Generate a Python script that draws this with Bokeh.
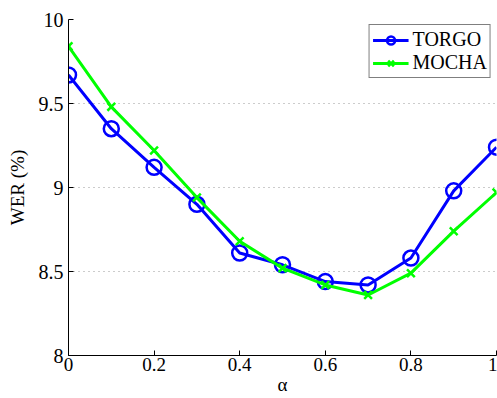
from bokeh.plotting import figure
from bokeh.embed import file_html
from bokeh.resources import INLINE
from bokeh.models import FixedTicker, Range1d, Legend, LegendItem

alpha = [0.0, 0.1, 0.2, 0.3, 0.4, 0.5, 0.6, 0.7, 0.8, 0.9, 1.0]
torgo = [9.67, 9.35, 9.12, 8.90, 8.61, 8.54, 8.44, 8.42, 8.58, 8.98, 9.24]
mocha = [9.84, 9.48, 9.22, 8.94, 8.68, 8.52, 8.42, 8.36, 8.49, 8.74, 8.97]
x_ticks = [0, 0.2, 0.4, 0.6, 0.8, 1]
x_tick_labels = ["0", "0.2", "0.4", "0.6", "0.8", "1"]
y_ticks = [8, 8.5, 9, 9.5, 10]
y_tick_labels = ["8", "8.5", "9", "9.5", "10"]

FONT = "Liberation Serif"

p = figure(width=497, height=398, output_backend="svg", toolbar_location=None,
           x_range=Range1d(0, 1), y_range=Range1d(8, 10),
           min_border_left=68, min_border_right=1, min_border_top=19, min_border_bottom=43)
p.outline_line_color = None
p.background_fill_color = "white"

for ax in (p.xaxis[0], p.yaxis[0]):
    ax.major_label_text_font = FONT
    ax.axis_label_text_font = FONT
    ax.axis_label_text_font_style = "normal"
    ax.axis_line_color = "black"
    ax.axis_line_width = 1
    ax.major_tick_in = 5
    ax.major_tick_out = 0
    ax.minor_tick_line_color = None
    ax.major_tick_line_color = "black"
    ax.major_label_text_color = "black"
    ax.axis_label_text_color = "black"

p.xaxis.major_label_text_font_size = "19px"
p.xaxis.axis_label_text_font_size = "19px"
p.yaxis.major_label_text_font_size = "20px"
p.yaxis.axis_label_text_font_size = "19px"

p.xaxis.ticker = FixedTicker(ticks=x_ticks)
p.xaxis.major_label_overrides = dict(zip(x_ticks, x_tick_labels))
p.yaxis.ticker = FixedTicker(ticks=y_ticks)
p.yaxis.major_label_overrides = dict(zip(y_ticks, y_tick_labels))
p.xaxis.axis_label = "α"
p.yaxis.axis_label = "WER (%)"
p.xaxis.axis_label_standoff = 0
p.xaxis.major_label_standoff = 2
p.yaxis.axis_label_standoff = 8
p.yaxis.major_label_standoff = 5

p.xgrid.grid_line_color = None
p.ygrid.grid_line_color = "#999999"
p.ygrid.grid_line_dash = "1 4"
p.ygrid.grid_line_width = 1

blue = "#0000ff"
green = "#00ff00"

lt = p.line(alpha, torgo, line_color=blue, line_width=3)
ct = p.scatter(alpha, torgo, marker="circle", size=15, fill_color=None,
               line_color=blue, line_width=2.5)
lm = p.line(alpha, mocha, line_color=green, line_width=3)
cm = p.scatter(alpha, mocha, marker="x", size=11, line_color=green, line_width=2.5)

legend = Legend(items=[LegendItem(label="TORGO", renderers=[lt, ct]),
                       LegendItem(label="MOCHA", renderers=[lm, cm])],
                location="top_right")
legend.label_text_font = FONT
legend.label_text_font_size = "20px"
legend.label_text_color = "black"
legend.label_standoff = 4
legend.glyph_width = 36
legend.glyph_height = 20
legend.spacing = 0
legend.padding = 3
legend.margin = 5
legend.border_line_color = "black"
legend.border_line_width = 1
legend.background_fill_alpha = 1
p.add_layout(legend)

open("out.html", "w").write(file_html(p, INLINE))
